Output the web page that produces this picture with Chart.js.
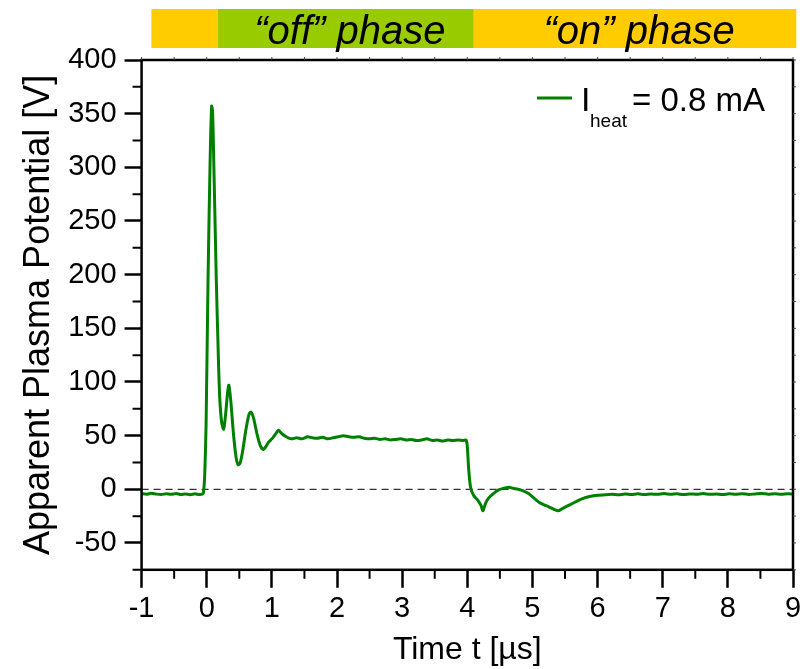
<!DOCTYPE html>
<html>
<head>
<meta charset="utf-8">
<script src="https://cdn.jsdelivr.net/npm/chart.js@4.4.1/dist/chart.umd.min.js"></script>
<style>
  html, body { margin: 0; padding: 0; background: #fff; }
  #wrap { width: 807px; height: 669px; }
</style>
</head>
<body>
<div id="wrap"><canvas id="c" width="807" height="669"></canvas></div>
<script>
// ---- data ----
const times = [
  -1.00, -0.92, -0.85, -0.78, -0.70, -0.62, -0.55, -0.47, -0.40, -0.33, -0.25, -0.18, -0.12, -0.07,
  -0.05, -0.03, -0.01, 0.02, 0.05, 0.075, 0.09, 0.11, 0.147, 0.18, 0.20, 0.23, 0.26, 0.29, 0.32, 0.34,
  0.37, 0.41, 0.45, 0.48, 0.51, 0.55, 0.60, 0.65, 0.68, 0.72, 0.77, 0.82, 0.87, 0.91, 0.95, 1.00,
  1.05, 1.10, 1.15, 1.22, 1.30, 1.38, 1.46, 1.55, 1.62, 1.70, 1.78, 1.86, 1.94, 2.02, 2.10, 2.18,
  2.26, 2.34, 2.42, 2.50, 2.58, 2.66, 2.74, 2.82, 2.90, 2.98, 3.06, 3.14, 3.22, 3.30, 3.38, 3.46,
  3.54, 3.62, 3.70, 3.78, 3.86, 3.94, 3.98, 4.00, 4.02, 4.05, 4.10, 4.16, 4.21, 4.24, 4.28, 4.33,
  4.40, 4.48, 4.56, 4.64, 4.70, 4.78, 4.86, 4.94, 5.02, 5.10, 5.18, 5.26, 5.34, 5.40, 5.46, 5.54,
  5.62, 5.70, 5.78, 5.86, 5.94, 6.02, 6.12, 6.22, 6.32, 6.42, 6.52, 6.62, 6.72, 6.82, 6.92, 7.02,
  7.12, 7.22, 7.32, 7.42, 7.52, 7.62, 7.72, 7.82, 7.92, 8.02, 8.12, 8.22, 8.32, 8.42, 8.52, 8.62,
  8.72, 8.82, 8.92, 9.00
];
const potential = [
  -4.0, -4.6, -3.7, -4.4, -4.9, -4.1, -4.7, -3.9, -4.8, -4.3, -5.0, -4.2, -4.9, -4.6,
  -3.0, 15, 60, 195, 300, 357, 352, 300, 195, 120, 85, 62, 56, 70, 90, 97,
  82, 52, 30, 23, 24, 35, 55, 70, 72, 66, 52, 41, 37, 40, 44, 47,
  51, 55, 52, 49, 47, 48, 47, 49, 48, 47.5, 48.5, 47, 48, 49, 50, 49,
  48.5, 49, 47.5, 47, 47.5, 46.5, 47, 46, 46.5, 47, 46, 46.5, 45.5, 46, 47, 45.5,
  46, 45, 46, 45.5, 46, 45.5, 46, 40, 20, 2, -6, -10, -15, -20, -13, -8,
  -4, -0.5, 1, 2, 1, 0, -1.5, -4, -8, -12, -14.5, -16.5, -19, -20, -18, -15.5,
  -13, -10.5, -8.5, -7, -6, -5.5, -5, -4.7, -5.1, -4.4, -4.8, -4.2, -4.9, -4.3, -4.7, -4.0,
  -4.6, -4.2, -4.9, -4.3, -4.6, -4.0, -4.7, -4.4, -4.9, -4.2, -4.6, -4.1, -4.8, -4.3, -3.9, -4.5,
  -4.1, -4.7, -4.2, -4.5
];
const seriesLabel = 'heat';
const legendValue = '= 0.8 mA';
const xMajorTicks = [-1, 0, 1, 2, 3, 4, 5, 6, 7, 8, 9];
const xMinorTicks = [-0.5, 0.5, 1.5, 2.5, 3.5, 4.5, 5.5, 6.5, 7.5, 8.5];
const yMajorTicks = [-50, 0, 50, 100, 150, 200, 250, 300, 350, 400];
const yMinorTicks = [-75, -25, 25, 75, 125, 175, 225, 275, 325, 375];
const zeroLine = [0, 0];
const zeroLineX = [-1, 9];
const phaseStarts = [-0.85, 0.17, 4.1];
const phaseEnds = [0.17, 4.1, 9.05];
const phaseLabels = ['', '\u201Coff\u201D phase', '\u201Con\u201D phase'];
const phaseColors = ['#FFCC00', '#99CC00', '#FFCC00'];

const FONT = "'Liberation Sans', Arial, Helvetica, sans-serif";
Chart.defaults.font.family = FONT;
Chart.defaults.color = '#000';

const framePlugin = {
  id: 'framePlugin',
  afterDraw(chart) {
    const { ctx, chartArea: a, scales: { x, y } } = chart;
    ctx.save();
    // phase bar
    for (let i = 0; i < phaseStarts.length; i++) {
      const x0 = x.getPixelForValue(phaseStarts[i]);
      const x1 = x.getPixelForValue(phaseEnds[i]);
      ctx.fillStyle = phaseColors[i];
      ctx.fillRect(x0, a.top - 51, x1 - x0, 39);
      if (phaseLabels[i]) {
        ctx.fillStyle = '#000';
        ctx.font = 'italic 40px ' + FONT;
        ctx.textAlign = 'center';
        ctx.textBaseline = 'alphabetic';
        ctx.fillText(phaseLabels[i], (x0 + x1) / 2 + 4, a.top - 16);
      }
    }
    // frame
    ctx.strokeStyle = '#000';
    ctx.lineWidth = 2.5;
    ctx.strokeRect(a.left, a.top, a.right - a.left, a.bottom - a.top);
    // minor ticks
    ctx.lineWidth = 2;
    ctx.beginPath();
    yMinorTicks.forEach(v => { const p = y.getPixelForValue(v); ctx.moveTo(a.left - 9, p); ctx.lineTo(a.left, p); });
    xMinorTicks.forEach(v => { const p = x.getPixelForValue(v); ctx.moveTo(p, a.bottom); ctx.lineTo(p, a.bottom + 9); });
    ctx.stroke();
    // tiny ticks on top and right
    ctx.lineWidth = 1;
    ctx.strokeStyle = '#444';
    ctx.beginPath();
    yMinorTicks.concat(yMajorTicks).forEach(v => { const p = y.getPixelForValue(v); ctx.moveTo(a.right, p); ctx.lineTo(a.right + 3, p); });
    xMinorTicks.concat(xMajorTicks).forEach(v => { const p = x.getPixelForValue(v); ctx.moveTo(p, a.top); ctx.lineTo(p, a.top - 3); });
    ctx.stroke();
    // legend
    const ds = chart.data.datasets[0];
    const ly = a.top + 38;
    ctx.strokeStyle = ds.borderColor;
    ctx.lineWidth = 3;
    ctx.beginPath();
    ctx.moveTo(a.right - 256, ly);
    ctx.lineTo(a.right - 221, ly);
    ctx.stroke();
    ctx.fillStyle = '#000';
    ctx.textAlign = 'left';
    ctx.textBaseline = 'alphabetic';
    ctx.font = '34px ' + FONT;
    ctx.fillText('I', a.right - 212, ly + 13);
    ctx.font = '19px ' + FONT;
    ctx.fillText(seriesLabel, a.right - 203, ly + 29);
    ctx.font = '33px ' + FONT;
    ctx.fillText(legendValue, a.right - 161, ly + 13);
    ctx.restore();
  }
};

new Chart(document.getElementById('c'), {
  type: 'line',
  data: {
    datasets: [
      {
        label: 'I_heat = 0.8 mA',
        data: times.map((t, i) => ({ x: t, y: potential[i] })),
        borderColor: '#008000',
        borderWidth: 3,
        pointRadius: 0,
        tension: 0.25,
        fill: false
      },
      {
        label: 'zero',
        data: zeroLineX.map((t, i) => ({ x: t, y: zeroLine[i] })),
        borderColor: '#333',
        borderWidth: 1.3,
        borderDash: [7, 5],
        pointRadius: 0,
        fill: false
      }
    ]
  },
  options: {
    responsive: false,
    animation: false,
    devicePixelRatio: 1,
    layout: { padding: { top: 60, right: 14, left: 13, bottom: 0 } },
    plugins: { legend: { display: false }, tooltip: { enabled: false } },
    scales: {
      x: {
        type: 'linear',
        min: -1, max: 9,
        afterBuildTicks: s => { s.ticks = xMajorTicks.map(v => ({ value: v })); },
        grid: { drawOnChartArea: false, drawTicks: true, tickLength: 18, tickWidth: 2.5, tickColor: '#000' },
        border: { display: false },
        ticks: { font: { size: 29 }, color: '#000', padding: 4, maxRotation: 0 },
        title: { display: true, text: 'Time t [\u00B5s]', font: { size: 32 }, color: '#000', padding: { top: 0, bottom: 0 } }
      },
      y: {
        type: 'linear',
        min: -75, max: 400,
        afterBuildTicks: s => { s.ticks = yMajorTicks.map(v => ({ value: v })); },
        grid: { drawOnChartArea: false, drawTicks: true, tickLength: 17, tickWidth: 2.5, tickColor: '#000' },
        border: { display: false },
        ticks: { font: { size: 29 }, color: '#000', padding: 8 },
        title: { display: true, text: 'Apparent Plasma Potential [V]', font: { size: 36 }, color: '#000', padding: { top: 4, bottom: 0 } }
      }
    }
  },
  plugins: [framePlugin]
});
</script>
</body>
</html>
